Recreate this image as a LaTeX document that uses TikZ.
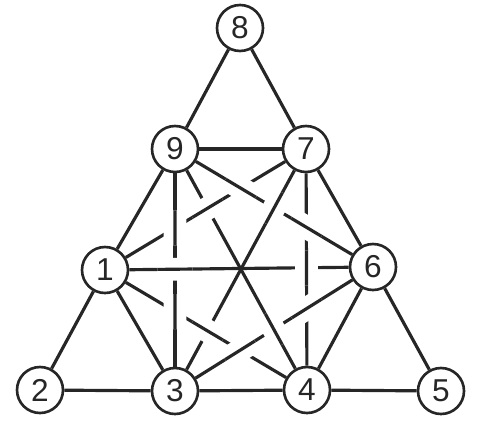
\documentclass[tikz,border=0pt]{standalone}
\usepackage{fontspec}
\setmainfont{Liberation Sans}
\usetikzlibrary{calc}

\begin{document}
\begin{tikzpicture}[
        vtx/.style={draw=black!85, text=black!85, circle, line width=1.5pt, minimum size=0.92cm, inner sep=0pt, font=\fontsize{18}{18}\selectfont},
        edge/.style={draw=black!85, line width=1.8pt},
        hop/.style={edge, preaction={draw=white, line width=13pt}}
    ]
        \useasboundingbox (0,0) rectangle (9.68,8.48);

        \node[vtx] (v8) at (4.80,7.92) {8};
        \node[vtx] (v9) at (3.50,5.50) {9};
        \node[vtx] (v7) at (6.12,5.50) {7};
        \node[vtx] (v1) at (2.10,3.08) {1};
        \node[vtx] (v6) at (7.46,3.14) {6};
        \node[vtx] (v2) at (0.80,0.68) {2};
        \node[vtx] (v3) at (3.50,0.66) {3};
        \node[vtx] (v4) at (6.14,0.68) {4};
        \node[vtx] (v5) at (8.82,0.66) {5};

        % outer triangle
        \draw[edge] (v8) -- (v9);
        \draw[edge] (v8) -- (v7);
        \draw[edge] (v9) -- (v7);
        \draw[edge] (v9) -- (v1);
        \draw[edge] (v7) -- (v6);
        \draw[edge] (v1) -- (v2);
        \draw[edge] (v6) -- (v5);
        \draw[edge] (v2) -- (v3);
        \draw[edge] (v3) -- (v4);
        \draw[edge] (v4) -- (v5);
        \draw[edge] (v1) -- (v3);
        \draw[edge] (v6) -- (v4);

        % inner edges
        \draw[edge] (v1) -- (v6);
        \draw[edge] (v9) -- (v3);
        \draw[edge] (v7) -- (v4);
        \draw[edge] (v9) -- (v6);
        \draw[edge] (v7) -- (v1);
        \draw[edge] (v9) -- (v4);
        \draw[edge] (v7) -- (v3);
        \draw[edge] (v1) -- (v4);
        \draw[edge] (v6) -- (v3);

        % crossings: the first edge passes over the second
        \coordinate (x1) at (intersection of v1--v6 and v9--v3);
        \draw[hop] ($(x1)!0.35cm!(v1)$) -- ($(x1)!0.35cm!(v6)$);
        \coordinate (x2) at (intersection of v7--v4 and v1--v6);
        \draw[hop] ($(x2)!0.35cm!(v7)$) -- ($(x2)!0.35cm!(v4)$);
        \coordinate (x3) at (intersection of v9--v6 and v7--v4);
        \draw[hop] ($(x3)!0.35cm!(v9)$) -- ($(x3)!0.35cm!(v6)$);
        \coordinate (x4) at (intersection of v6--v3 and v7--v4);
        \draw[hop] ($(x4)!0.35cm!(v6)$) -- ($(x4)!0.35cm!(v3)$);
        \coordinate (x5) at (intersection of v7--v3 and v9--v6);
        \draw[hop] ($(x5)!0.35cm!(v7)$) -- ($(x5)!0.35cm!(v3)$);
        \coordinate (x6) at (intersection of v9--v6 and v7--v1);
        \draw[hop] ($(x6)!0.35cm!(v9)$) -- ($(x6)!0.35cm!(v6)$);
        \coordinate (x7) at (intersection of v7--v1 and v9--v4);
        \draw[hop] ($(x7)!0.35cm!(v7)$) -- ($(x7)!0.35cm!(v1)$);
        \coordinate (x8) at (intersection of v9--v3 and v7--v1);
        \draw[hop] ($(x8)!0.35cm!(v9)$) -- ($(x8)!0.35cm!(v3)$);
        \coordinate (x9) at (intersection of v1--v4 and v7--v3);
        \draw[hop] ($(x9)!0.35cm!(v1)$) -- ($(x9)!0.35cm!(v4)$);
        \coordinate (x10) at (intersection of v9--v3 and v1--v4);
        \draw[hop] ($(x10)!0.35cm!(v9)$) -- ($(x10)!0.35cm!(v3)$);
        \coordinate (x11) at (intersection of v6--v3 and v1--v4);
        \draw[hop] ($(x11)!0.35cm!(v6)$) -- ($(x11)!0.35cm!(v3)$);
        \coordinate (x12) at (intersection of v9--v4 and v6--v3);
        \draw[hop] ($(x12)!0.35cm!(v9)$) -- ($(x12)!0.35cm!(v4)$);
    \end{tikzpicture}
\end{document}
